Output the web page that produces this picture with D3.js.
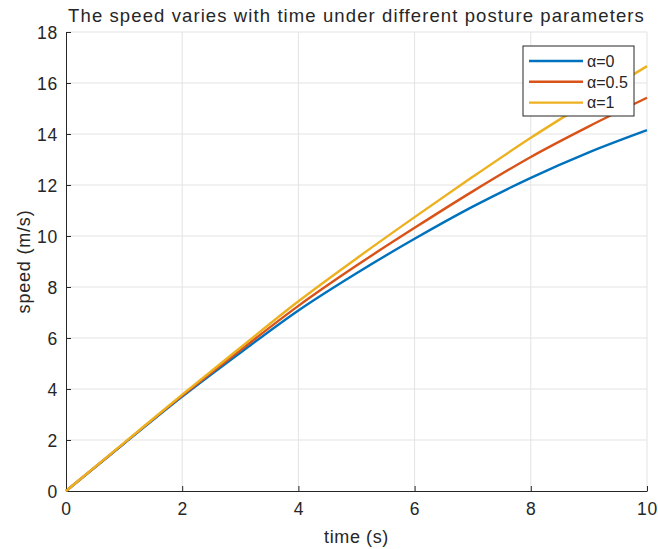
<!DOCTYPE html>
<html>
<head>
<meta charset="utf-8">
<script src="https://cdn.jsdelivr.net/npm/d3@7"></script>
<style>
  body { margin: 0; background: #fff; }
  text { font-family: "Liberation Sans", Arial, sans-serif; fill: #262626; }
</style>
</head>
<body>
<div id="chart"></div>
<script>
// values
var times = [0, 1, 2, 3, 4, 5, 6, 7, 8, 9, 10];
var speedA0 = [0, 1.86, 3.70, 5.42, 7.08, 8.54, 9.89, 11.15, 12.28, 13.28, 14.15];
var speedA05 = [0, 1.88, 3.74, 5.52, 7.26, 8.84, 10.32, 11.75, 13.10, 14.30, 15.42];
var speedA1 = [0, 1.89, 3.78, 5.62, 7.44, 9.12, 10.74, 12.32, 13.85, 15.28, 16.66];
var seriesNames = ["α=0", "α=0.5", "α=1"];
var seriesColors = ["#0072BD", "#D95319", "#EDB120"];
var xTicks = [0, 2, 4, 6, 8, 10];
var yTicks = [0, 2, 4, 6, 8, 10, 12, 14, 16, 18];

var svgWidth = 658;
var svgHeight = 549;
var margin = { top: 32, right: 11, bottom: 58, left: 66 };
var width = svgWidth - margin.left - margin.right;
var height = svgHeight - margin.top - margin.bottom;

var svg = d3.select("#chart")
    .append("svg")
    .attr("width", svgWidth)
    .attr("height", svgHeight);

var g = svg.append("g")
    .attr("transform", `translate(${margin.left}, ${margin.top})`);

var x = d3.scaleLinear().domain([0, 10]).range([0, width]);
var y = d3.scaleLinear().domain([0, 18]).range([height, 0]);

// grid
g.append("g").selectAll("line")
    .data(xTicks.slice(1))
    .enter().append("line")
    .attr("x1", d => x(d)).attr("x2", d => x(d))
    .attr("y1", 0).attr("y2", height)
    .attr("stroke", "#e3e3e3").attr("stroke-width", 1);

g.append("g").selectAll("line")
    .data(yTicks.slice(1))
    .enter().append("line")
    .attr("x1", 0).attr("x2", width)
    .attr("y1", d => y(d)).attr("y2", d => y(d))
    .attr("stroke", "#e3e3e3").attr("stroke-width", 1);

// axes
var xAxis = g.append("g")
    .attr("transform", `translate(0, ${height})`)
    .call(d3.axisBottom(x).tickValues(xTicks).tickSizeInner(-5).tickSizeOuter(0).tickPadding(12));

var yAxis = g.append("g")
    .call(d3.axisLeft(y).tickValues(yTicks).tickSizeInner(-5).tickSizeOuter(0).tickPadding(8));

[xAxis, yAxis].forEach(function (ax) {
    ax.select(".domain").attr("stroke", "#262626");
    ax.selectAll(".tick line").attr("stroke", "#262626");
    ax.selectAll(".tick text")
        .style("font-family", "'Liberation Sans', Arial, sans-serif")
        .style("font-size", "17.5px")
        .style("letter-spacing", "0.8px")
        .attr("fill", "#262626");
});
yAxis.selectAll(".tick text").attr("dy", "0.35em");

// lines
var allSeries = [speedA0, speedA05, speedA1];
var line = d3.line()
    .x((d, i) => x(times[i]))
    .y(d => y(d))
    .curve(d3.curveMonotoneX);

g.selectAll(".series")
    .data(allSeries)
    .enter().append("path")
    .attr("class", "series")
    .attr("d", d => line(d))
    .attr("fill", "none")
    .attr("stroke", (d, i) => seriesColors[i])
    .attr("stroke-width", 2.4);

// title and labels
svg.append("text")
    .attr("x", margin.left + width / 2)
    .attr("y", 22)
    .attr("text-anchor", "middle")
    .style("font-size", "18.5px")
    .style("letter-spacing", "1.1px")
    .text("The speed varies with time under different posture parameters");

svg.append("text")
    .attr("x", margin.left + width / 2)
    .attr("y", 543)
    .attr("text-anchor", "middle")
    .style("font-size", "18px")
    .style("letter-spacing", "0.6px")
    .text("time (s)");

svg.append("text")
    .attr("transform", `translate(30, ${margin.top + height / 2}) rotate(-90)`)
    .attr("text-anchor", "middle")
    .style("font-size", "18px")
    .style("letter-spacing", "0.8px")
    .text("speed (m/s)");

// legend
var legend = svg.append("g").attr("transform", "translate(523, 46)");
legend.append("rect")
    .attr("width", 111).attr("height", 70)
    .attr("fill", "#fff").attr("stroke", "#262626").attr("stroke-width", 1);

var items = legend.selectAll(".item")
    .data(seriesNames)
    .enter().append("g")
    .attr("transform", (d, i) => `translate(0, ${15 + i * 20.8})`);

items.append("line")
    .attr("x1", 6).attr("x2", 60)
    .attr("stroke", (d, i) => seriesColors[i])
    .attr("stroke-width", 2.4);

items.append("text")
    .attr("x", 64)
    .attr("dy", "0.36em")
    .style("font-size", "16px")
    .text(d => d);
</script>
</body>
</html>
